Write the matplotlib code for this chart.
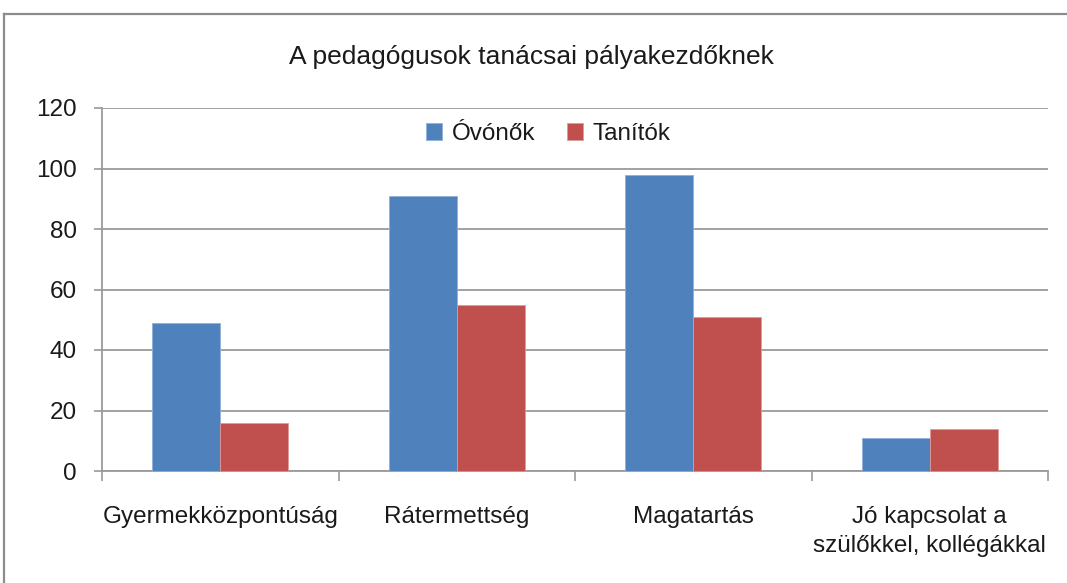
import matplotlib
matplotlib.use("Agg")
import matplotlib.pyplot as plt
from matplotlib.lines import Line2D
import numpy as np

CATEGORIES = ["Gyermekközpontúság", "Rátermettség", "Magatartás",
              "Jó kapcsolat a\nszülőkkel, kollégákkal"]
OVONOK = [49, 91, 98, 11]
TANITOK = [16, 55, 51, 14]
SERIES = ["Óvónők", "Tanítók"]
TITLE = "A pedagógusok tanácsai pályakezdőknek"
YTICKS = [0, 20, 40, 60, 80, 100, 120]

BLUE = "#4F81BD"
RED = "#C0504D"
GRID = "#9a9a9a"
TEXT = "#1a1a1a"

plt.rcParams["font.family"] = ["Liberation Sans Narrow", "Liberation Sans", "DejaVu Sans"]
plt.rcParams["text.color"] = TEXT

W, H = 1067, 583
fig = plt.figure(figsize=(W / 100, H / 100), dpi=100)

# chart border (left + top visible)
fig.add_artist(Line2D([4 / W, 4 / W], [0, 1 - 14 / H], transform=fig.transFigure,
                      color="#8c8c8c", lw=1.6))
fig.add_artist(Line2D([4 / W, 1], [1 - 14 / H, 1 - 14 / H], transform=fig.transFigure,
                      color="#8c8c8c", lw=1.6))

ax = fig.add_axes([102 / W, 1 - 471 / H, (1048 - 102) / W, (471 - 108) / H])

x = np.arange(len(CATEGORIES))
bw = 0.288
ax.bar(x - bw / 2, OVONOK, bw, color=BLUE, edgecolor="#8fb0da", linewidth=0.6,
       label=SERIES[0], zorder=3)
ax.bar(x + bw / 2, TANITOK, bw, color=RED, edgecolor="#e09a98", linewidth=0.6,
       label=SERIES[1], zorder=3)

ax.set_xlim(-0.5, len(CATEGORIES) - 0.5)
ax.set_ylim(0, 120)
ax.set_yticks(YTICKS)
ax.yaxis.grid(True, color=GRID, lw=1.3, zorder=0)
ax.set_axisbelow(True)

ax.set_xticks(x)
ax.set_xticklabels(CATEGORIES, fontsize=17.5, linespacing=1.45, color=TEXT)
ax.set_xticks(np.arange(-0.5, len(CATEGORIES)), minor=True)
ax.tick_params(axis="x", which="major", length=0, pad=25)
ax.tick_params(axis="x", which="minor", length=7, width=1.2, color=GRID, direction="out")
ax.tick_params(axis="y", length=6, width=1.2, color=GRID, labelsize=17.5, pad=12,
               labelcolor=TEXT)

for s in ["top", "right"]:
    ax.spines[s].set_visible(False)
for s in ["left", "bottom"]:
    ax.spines[s].set_color(GRID)
    ax.spines[s].set_linewidth(1.3)

ax.legend(loc="center", bbox_to_anchor=(0.472, 0.928), ncol=2, frameon=False,
          fontsize=17.5, handlelength=0.65, handleheight=0.65, columnspacing=1.3,
          handletextpad=0.4)

fig.text(531 / W, 1 - 57 / H, TITLE, ha="center", va="center", fontsize=19)

fig.savefig("out.png", dpi=100)
